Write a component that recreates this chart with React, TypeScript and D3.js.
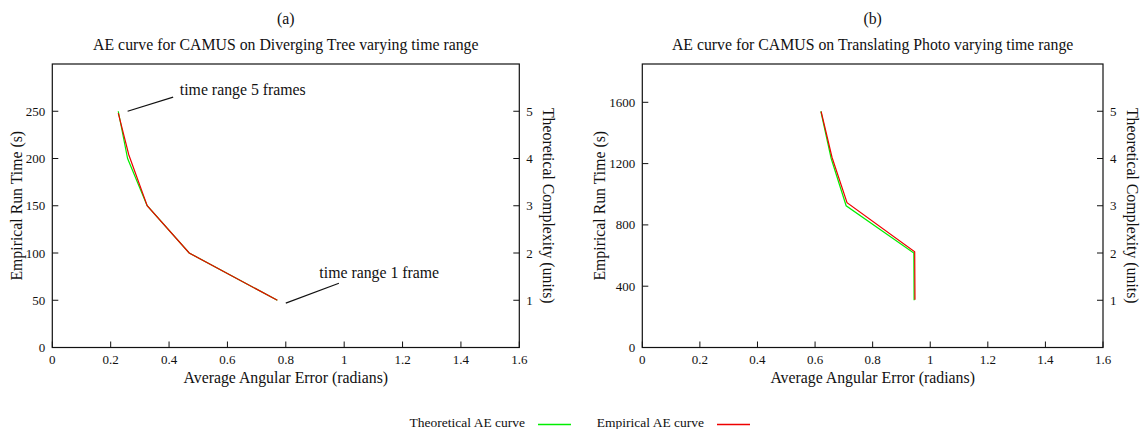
import React from "react";
import * as d3 from "d3";

const W = 1140;
const H = 429;
const FONT = "'Liberation Serif', 'Times New Roman', serif";

const xTicks = [0, 0.2, 0.4, 0.6, 0.8, 1, 1.2, 1.4, 1.6];
const rightTicks = [1, 2, 3, 4, 5];

// Panel (a): Diverging Tree
const aLeftTicks = [0, 50, 100, 150, 200, 250];
const aTheoX = [0.226, 0.258, 0.325, 0.469, 0.771];
const aTheoY = [5, 4, 3, 2, 1];
const aEmpX = [0.226, 0.262, 0.325, 0.469, 0.771];
const aEmpY = [248, 204, 150, 100, 50];

// Panel (b): Translating Photo
const bLeftTicks = [0, 400, 800, 1200, 1600];
const bTheoX = [0.62, 0.656, 0.708, 0.943, 0.944];
const bTheoY = [5, 4, 3, 2, 1];
const bEmpX = [0.621, 0.659, 0.711, 0.946, 0.947];
const bEmpY = [1540, 1240, 945, 625, 312];

const legendLabels = ["Theoretical AE curve", "Empirical AE curve"];
const GREEN = "#00ee00";
const RED = "#ee0000";
const BIG = 15.8;
const SMALL = 13;

type PanelProps = {
  letter: string;
  title: string;
  left: number;
  right: number;
  leftMax: number;
  leftTicks: number[];
  leftLabelOffset: number;
  theoX: number[];
  theoY: number[];
  empX: number[];
  empY: number[];
  labels?: { text: string; tx: number; ty: number; from: [number, number]; to: [number, number] }[];
};

const TOP = 64;
const BOTTOM = 347.5;

function Panel(p: PanelProps) {
  const x = d3.scaleLinear().domain([0, 1.6]).range([p.left, p.right]);
  const yL = d3.scaleLinear().domain([0, p.leftMax]).range([BOTTOM, TOP]);
  const yR = d3.scaleLinear().domain([0, 6]).range([BOTTOM, TOP]);
  const theo = p.theoX.map((v, i) => [v, p.theoY[i]] as [number, number]);
  const emp = p.empX.map((v, i) => [v, p.empY[i]] as [number, number]);
  const theoLine = d3.line<[number, number]>().x((d) => x(d[0])).y((d) => yR(d[1]));
  const empLine = d3.line<[number, number]>().x((d) => x(d[0])).y((d) => yL(d[1]));
  const cx = (p.left + p.right) / 2;
  const cy = (TOP + BOTTOM) / 2;
  const tick = 6;
  return (
    <g fontFamily={FONT} fill="#111">
      <text x={cx} y={24} textAnchor="middle" fontSize={BIG}>{p.letter}</text>
      <text x={cx} y={50} textAnchor="middle" fontSize={BIG}>{p.title}</text>
      <rect x={p.left} y={TOP} width={p.right - p.left} height={BOTTOM - TOP} fill="none" stroke="#111" strokeWidth={1.2} />
      {xTicks.map((t) => (
        <g key={"x" + t}>
          <line x1={x(t)} x2={x(t)} y1={BOTTOM} y2={BOTTOM - tick} stroke="#111" strokeWidth={1} />
          <text x={x(t)} y={BOTTOM + 16} textAnchor="middle" fontSize={SMALL}>{String(t)}</text>
        </g>
      ))}
      {p.leftTicks.map((t) => (
        <g key={"l" + t}>
          <line x1={p.left} x2={p.left + tick} y1={yL(t)} y2={yL(t)} stroke="#111" strokeWidth={1} />
          <text x={p.left - 7} y={yL(t) + 4.5} textAnchor="end" fontSize={SMALL}>{String(t)}</text>
        </g>
      ))}
      {rightTicks.map((t) => (
        <g key={"r" + t}>
          <line x1={p.right} x2={p.right - tick} y1={yR(t)} y2={yR(t)} stroke="#111" strokeWidth={1} />
          <text x={p.right + 7} y={yR(t) + 4.5} textAnchor="start" fontSize={SMALL}>{String(t)}</text>
        </g>
      ))}
      <text x={cx} y={BOTTOM + 35} textAnchor="middle" fontSize={BIG}>Average Angular Error (radians)</text>
      <text transform={`translate(${p.left - p.leftLabelOffset},${cy}) rotate(-90)`} textAnchor="middle" fontSize={BIG}>Empirical Run Time (s)</text>
      <text transform={`translate(${p.right + 24},${cy}) rotate(90)`} textAnchor="middle" fontSize={BIG}>Theoretical Complexity (units)</text>
      <path d={theoLine(theo) || ""} fill="none" stroke={GREEN} strokeWidth={1.2} />
      <path d={empLine(emp) || ""} fill="none" stroke={RED} strokeWidth={1.2} />
      {(p.labels || []).map((l, i) => (
        <g key={"a" + i}>
          <line x1={x(l.from[0])} y1={yL(l.from[1])} x2={x(l.to[0])} y2={yL(l.to[1])} stroke="#111" strokeWidth={1.2} />
          <text x={x(l.tx)} y={yL(l.ty)} fontSize={BIG}>{l.text}</text>
        </g>
      ))}
    </g>
  );
}

export default function App() {
  return (
    <svg width={W} height={H} style={{ position: "absolute", left: 0, top: 0, background: "#fff" }}>
      <rect width={W} height={H} fill="#fff" />
      <Panel
        letter="(a)"
        title="AE curve for CAMUS on Diverging Tree varying time range"
        left={52.3}
        right={519.3}
        leftMax={300}
        leftTicks={aLeftTicks}
        leftLabelOffset={30}
        theoX={aTheoX}
        theoY={aTheoY}
        empX={aEmpX}
        empY={aEmpY}
        labels={[
          { text: "time range 5 frames", tx: 0.437, ty: 267, from: [0.258, 250], to: [0.414, 265] },
          { text: "time range 1 frame", tx: 0.915, ty: 74, from: [0.8, 47], to: [0.982, 68] },
        ]}
      />
      <Panel
        letter="(b)"
        title="AE curve for CAMUS on Translating Photo varying time range"
        left={642.3}
        right={1103}
        leftMax={1850}
        leftTicks={bLeftTicks}
        leftLabelOffset={37}
        theoX={bTheoX}
        theoY={bTheoY}
        empX={bEmpX}
        empY={bEmpY}
      />
      <g fontFamily={FONT} fill="#111" fontSize={13.5}>
        <text x={525} y={427} textAnchor="end">{legendLabels[0]}</text>
        <line x1={538} x2={571} y1={424.5} y2={424.5} stroke={GREEN} strokeWidth={1.5} />
        <text x={704} y={427} textAnchor="end">{legendLabels[1]}</text>
        <line x1={717} x2={750} y1={424.5} y2={424.5} stroke={RED} strokeWidth={1.5} />
      </g>
    </svg>
  );
}
